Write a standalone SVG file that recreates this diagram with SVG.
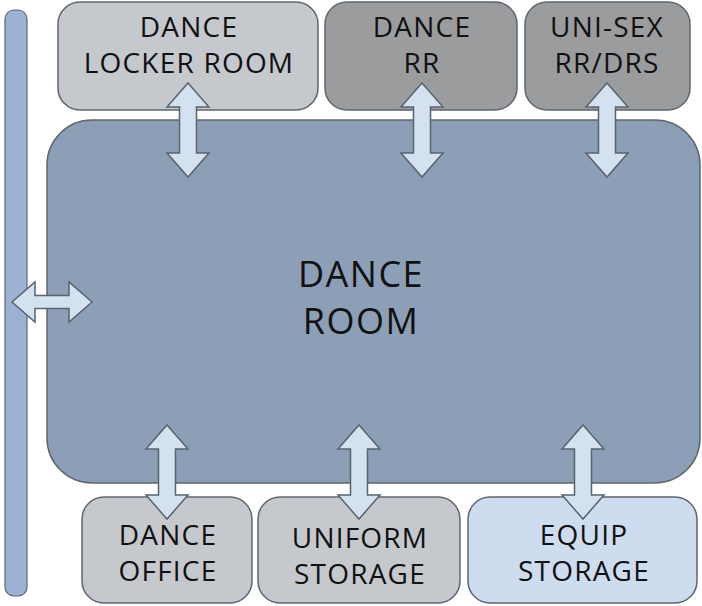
<svg xmlns="http://www.w3.org/2000/svg" width="702" height="606" viewBox="0 0 702 606">
<style>
.box{stroke:#5f666e;stroke-width:1.5}
.lt{fill:#c5c9cd}
.dk{fill:#9b9c9e}
.eq{fill:#cddcef}
.room{fill:#8c9fb6;stroke:#5f666e;stroke-width:1.5}
.bar{fill:#9cb1d3;stroke:#5f666e;stroke-width:1.2}
.arr{fill:#d3e1f1;stroke:#5a646e;stroke-width:1.5;stroke-linejoin:miter}
text{font-family:"Open Sans","Noto Sans","Liberation Sans",sans-serif;fill:#111;text-anchor:middle}
.s{font-size:28px;letter-spacing:1.2px}
.m{font-size:36px;letter-spacing:1.5px}
</style>
<defs>
<path id="va" d="M0,0 L21,24 L8.5,24 L8.5,70 L21,70 L0,94 L-21,70 L-8.5,70 L-8.5,24 L-21,24 Z"/>
</defs>
<rect id="corridor" class="bar" x="5" y="10" width="22" height="586" rx="9"/>
<g id="locker"><rect class="box lt" x="58" y="2" width="260" height="108" rx="22"/>
<text class="s" x="189" y="37">DANCE</text><text class="s" x="189" y="73">LOCKER ROOM</text></g>
<g id="rr"><rect class="box dk" x="325" y="2" width="192" height="108" rx="22"/>
<text class="s" x="422" y="37">DANCE</text><text class="s" x="422" y="73">RR</text></g>
<g id="unisex"><rect class="box dk" x="525" y="2" width="165" height="108" rx="22"/>
<text class="s" x="607" y="37">UNI-SEX</text><text class="s" x="607" y="73">RR/DRS</text></g>
<g id="room"><rect class="room" x="47" y="120" width="653" height="363" rx="45"/>
<text class="m" x="361" y="287">DANCE</text><text class="m" x="361" y="334">ROOM</text></g>
<g id="office"><rect class="box lt" x="82" y="497" width="170" height="106" rx="22"/>
<text class="s" x="168" y="545">DANCE</text><text class="s" x="168" y="581">OFFICE</text></g>
<g id="uniform"><rect class="box lt" x="258" y="497" width="202" height="106" rx="22"/>
<text class="s" x="360" y="548">UNIFORM</text><text class="s" x="360" y="584">STORAGE</text></g>
<g id="equip"><rect class="box eq" x="468" y="497" width="229" height="106" rx="22"/>
<text class="s" x="584" y="545">EQUIP</text><text class="s" x="584" y="581">STORAGE</text></g>
<g id="connectors">
<use href="#va" class="arr" x="188" y="83"/>
<use href="#va" class="arr" x="422" y="83"/>
<use href="#va" class="arr" x="607" y="83"/>
<use href="#va" class="arr" x="167" y="425"/>
<use href="#va" class="arr" x="359" y="425"/>
<use href="#va" class="arr" x="583" y="425"/>
<path class="arr" d="M12,302 L35,282 L35,295.5 L69,295.5 L69,282 L92,302 L69,322 L69,308.5 L35,308.5 L35,322 Z"/>
</g>
</svg>
